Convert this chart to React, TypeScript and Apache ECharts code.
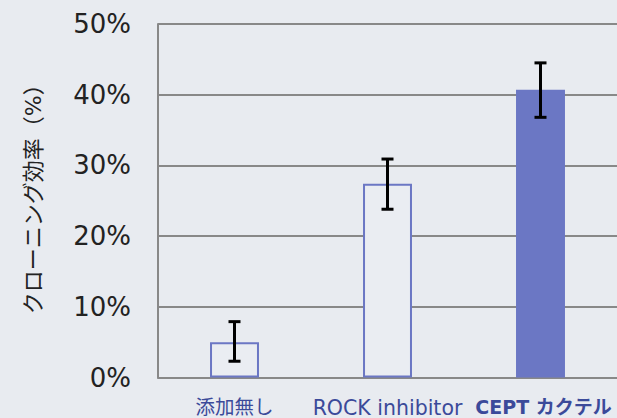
import React, { useEffect, useRef } from "react";
import * as echarts from "echarts";

const categories = ["添加無し", "ROCK inhibitor", "CEPT カクテル"];
const values = [5.0, 27.4, 40.7];
const errLow = [2.3, 23.8, 36.8];
const errHigh = [7.9, 30.9, 44.5];
const yTicks = [0, 10, 20, 30, 40, 50];
const filled = [false, false, true];

const FONT = "'DejaVu Sans', 'Noto Sans CJK JP', sans-serif";
const BAR = "#6B77C4";
const BG = "#E8EBF0";
const LBL = "#3B4A9A";

export default function App() {
  const ref = useRef<HTMLDivElement>(null);
  useEffect(() => {
    document.body.style.margin = "0";
    const chart = echarts.init(ref.current!, null, { renderer: "svg" });
    chart.setOption({
      animation: false,
      backgroundColor: BG,
      textStyle: { fontFamily: FONT },
      grid: { left: 158, top: 24, width: 462, height: 354 },
      xAxis: {
        type: "category",
        data: categories,
        axisLine: { show: true, lineStyle: { color: "#888", width: 2 } },
        axisTick: { show: false },
        axisLabel: {
          interval: 0,
          hideOverlap: false,
          margin: 20,
          fontSize: 19.5,
          color: LBL,
          fontFamily: FONT,
          formatter: (v: string, i: number) =>
            filled[i] ? "{b|" + v + "}" : i === 1 ? "{a|" + v + "}" : v,
          rich: {
            a: { fontSize: 20.5, color: LBL, fontFamily: FONT },
            b: { fontWeight: "bold", fontSize: 19, color: LBL, fontFamily: FONT, padding: [0, 0, 0, 6] },
          },
        },
      },
      yAxis: {
        type: "value",
        min: yTicks[0],
        max: yTicks[yTicks.length - 1],
        interval: 10,
        name: "クローニング効率（%）",
        nameLocation: "middle",
        nameGap: 114,
        nameTextStyle: { fontSize: 22, color: "#222", fontFamily: FONT, padding: [0, 0, 0, 14] },
        axisLine: { show: true, lineStyle: { color: "#888", width: 2 } },
        axisTick: { show: false },
        splitLine: { show: true, lineStyle: { color: "#888", width: 2 } },
        axisLabel: { formatter: "{value}%", fontSize: 26, color: "#222", margin: 27, fontFamily: FONT },
      },
      series: [
        {
          type: "bar",
          barWidth: "32%",
          data: values.map((v, i) => ({
            value: v,
            itemStyle: filled[i]
              ? { color: BAR }
              : { color: "#EAEDF2", borderColor: BAR, borderWidth: 2 },
          })),
        },
        {
          type: "custom",
          data: categories.map((_, i) => [i, errLow[i], errHigh[i]]),
          renderItem: (params: any, api: any) => {
            const x = api.value(0);
            const lo = api.coord([x, api.value(1)]);
            const hi = api.coord([x, api.value(2)]);
            const hw = 6;
            const style = { stroke: "#000", lineWidth: 3 };
            return {
              type: "group",
              children: [
                { type: "line", shape: { x1: lo[0], y1: lo[1], x2: hi[0], y2: hi[1] }, style },
                { type: "line", shape: { x1: hi[0] - hw, y1: hi[1], x2: hi[0] + hw, y2: hi[1] }, style },
                { type: "line", shape: { x1: lo[0] - hw, y1: lo[1], x2: lo[0] + hw, y2: lo[1] }, style },
              ],
            };
          },
          z: 10,
        },
      ],
    });
    return () => chart.dispose();
  }, []);
  return <div ref={ref} style={{ width: 617, height: 418 }} />;
}
